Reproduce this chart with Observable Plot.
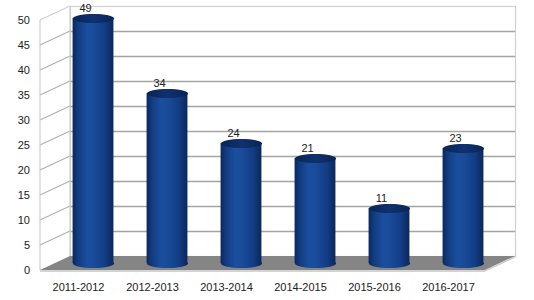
<!DOCTYPE html>
<html>
<head>
<meta charset="utf-8">
<script src="https://cdn.jsdelivr.net/npm/d3@7"></script>
<script src="https://cdn.jsdelivr.net/npm/@observablehq/plot@0.6"></script>
<style>
  html, body { margin: 0; padding: 0; background: #fff; }
  #chart svg { display: block; }
</style>
</head>
<body>
<svg width="0" height="0" style="position:absolute">
  <defs>
    <linearGradient id="cyl" x1="0" x2="1" y1="0" y2="0">
      <stop offset="0" stop-color="#0b275c"/>
      <stop offset="0.12" stop-color="#123b7e"/>
      <stop offset="0.35" stop-color="#1b4e9e"/>
      <stop offset="0.5" stop-color="#1a4c9b"/>
      <stop offset="0.8" stop-color="#123c84"/>
      <stop offset="1" stop-color="#0b2758"/>
    </linearGradient>
    <linearGradient id="cyltop" x1="0" x2="1" y1="0" y2="0">
      <stop offset="0" stop-color="#0a2456"/>
      <stop offset="0.5" stop-color="#10316f"/>
      <stop offset="1" stop-color="#0a2456"/>
    </linearGradient>
  </defs>
</svg>
<div id="chart"></div>
<script>
const categories = ["2011-2012", "2012-2013", "2013-2014", "2014-2015", "2015-2016", "2016-2017"];
const values = [49, 34, 24, 21, 11, 23];
const yTicks = [0, 5, 10, 15, 20, 25, 30, 35, 40, 45, 50];

const data = categories.map((c, i) => ({category: c, value: values[i]}));

// depth offsets (half depth) for the pseudo-3D look
const DX = 15, DY = 7;
const BAR_W = 41, RY = 4.5;

function ellipseSymbol(rx, ry) {
  const k = 0.5523;
  return {
    draw(ctx) {
      ctx.moveTo(rx, 0);
      ctx.bezierCurveTo(rx, k * ry, k * rx, ry, 0, ry);
      ctx.bezierCurveTo(-k * rx, ry, -rx, k * ry, -rx, 0);
      ctx.bezierCurveTo(-rx, -k * ry, -k * rx, -ry, 0, -ry);
      ctx.bezierCurveTo(k * rx, -ry, rx, -k * ry, rx, 0);
      ctx.closePath();
    }
  };
}
const ell = ellipseSymbol(BAR_W / 2, RY);

// floor, left wall and front axis labels drawn from the plot's scales/dimensions
function walls(index, scales, values, dim) {
  const g = d3.create("svg:g");
  const x0 = dim.marginLeft, x1 = dim.width - dim.marginRight;
  const y0 = scales.y(0), yTop = scales.y(yTicks[yTicks.length - 1]);
  for (const t of yTicks) {
    if (t === 0) continue;
    const y = scales.y(t);
    g.append("line")
      .attr("x1", x0 - DX).attr("y1", y + DY)
      .attr("x2", x0 + DX).attr("y2", y - DY)
      .attr("stroke", t === 50 ? "#cfcfcf" : "#b0b0b0").attr("stroke-width", 1.2);
  }
  g.append("line")
    .attr("x1", x0 - DX).attr("y1", yTop + DY)
    .attr("x2", x0 - DX).attr("y2", y0 + DY)
    .attr("stroke", "#cfcfcf").attr("stroke-width", 1.2);
  g.append("line")
    .attr("x1", x0 + DX).attr("y1", yTop - DY)
    .attr("x2", x0 + DX).attr("y2", y0 - DY)
    .attr("stroke", "#cfcfcf").attr("stroke-width", 1.2);
  g.append("path")
    .attr("d", `M${x0 - DX},${y0 + DY}L${x1 - DX},${y0 + DY}L${x1 + DX},${y0 - DY}L${x0 + DX},${y0 - DY}Z`)
    .attr("fill", "#858585");
  g.append("line")
    .attr("x1", x0 - DX).attr("y1", y0 + DY + 1)
    .attr("x2", x1 - DX).attr("y2", y0 + DY + 1)
    .attr("stroke", "#c4c4c4").attr("stroke-width", 1.5);
  g.append("line")
    .attr("x1", x1 - DX).attr("y1", y0 + DY + 1)
    .attr("x2", x1 + DX).attr("y2", y0 - DY + 1)
    .attr("stroke", "#c4c4c4").attr("stroke-width", 1.2);
  // y tick labels on the front axis
  for (const t of yTicks) {
    g.append("text")
      .attr("x", x0 - DX - 10).attr("y", scales.y(t) + DY)
      .attr("dy", "0.32em")
      .attr("text-anchor", "end")
      .attr("fill", "#222")
      .attr("font-size", 11)
      .text(String(t));
  }
  return g.node();
}

const bandInset = (534 - 55 - 34) / categories.length / 2 - BAR_W / 2;

const plot = Plot.plot({
  width: 534,
  height: 300,
  marginLeft: 55,
  marginRight: 34,
  marginTop: 13,
  marginBottom: 37,
  style: {fontFamily: "'Liberation Sans', Arial, sans-serif", fontSize: "11px", color: "#222", background: "#fff", overflow: "visible"},
  x: {type: "band", domain: categories, padding: 0, axis: null},
  y: {domain: [0, 50], axis: null},
  marks: [
    Plot.frame({dx: DX, dy: -DY, stroke: "#cfcfcf", strokeWidth: 1.2, fill: "#fff"}),
    Plot.ruleY(yTicks.filter(t => t > 0 && t < 50), {y: d => d, dx: DX, dy: -DY, stroke: "#a4a4a4", strokeWidth: 1.6}),
    walls,
    Plot.dot(data, {x: "category", y: 0, symbol: ell, fill: "url(#cyl)", stroke: "none"}),
    Plot.barY(data, {x: "category", y: "value", insetLeft: bandInset, insetRight: bandInset, fill: "url(#cyl)"}),
    Plot.dot(data, {x: "category", y: "value", symbol: ell, fill: "url(#cyltop)", stroke: "none"}),
    Plot.text(data, {x: "category", y: "value", text: d => String(d.value), dx: -8, dy: -10.5, fill: "#222", fontSize: 11}),
    Plot.text(data, {x: "category", y: 0, text: "category", dx: -DX, dy: 24, fill: "#222", fontSize: 11})
  ]
});
document.getElementById("chart").append(plot);
</script>
</body>
</html>
